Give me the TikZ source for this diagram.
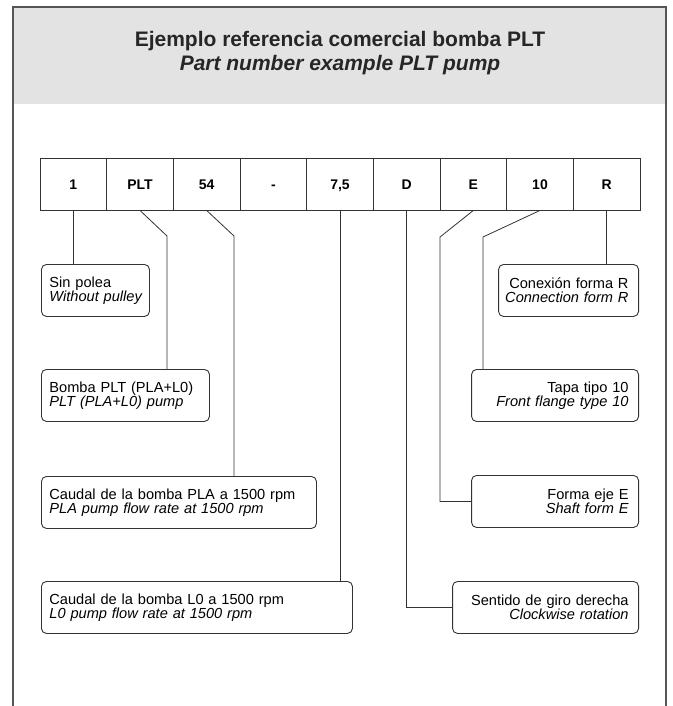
\documentclass[tikz,border=0pt]{standalone}
\usepackage{fontspec}
\setmainfont{Liberation Sans}
\definecolor{linec}{HTML}{333333}
\definecolor{framec}{HTML}{555555}
\definecolor{band}{HTML}{E3E3E3}
\newcommand{\myL}[1]{\hbox to\linewidth{#1\hss}}
\newcommand{\myR}[1]{\hbox to\linewidth{\hss#1}}
\begin{document}
\begin{tikzpicture}[x=1pt,y=-1pt,
  cell/.style={draw=linec, line width=0.9pt, minimum width=66.667pt, minimum height=52pt,
    inner sep=0pt, text height=10pt, text depth=0pt, font=\fontsize{14}{14}\selectfont\bfseries},
  lbox/.style={draw=linec, line width=0.9pt, rounded corners=5pt, anchor=north west,
    minimum height=52pt, inner xsep=8pt, inner ysep=0pt, align=left,
    font=\fontsize{14.6}{14}\selectfont},
  rbox/.style={draw=linec, line width=0.9pt, rounded corners=5pt, anchor=north east,
    minimum height=52pt, inner xsep=10pt, inner ysep=0pt, align=right,
    font=\fontsize{14.6}{14}\selectfont},
  conn/.style={draw=linec, line width=0.8pt},
  ttl/.style={anchor=base, font=\fontsize{21}{24}\selectfont\bfseries, text=black!85}]
\useasboundingbox (0,0) rectangle (672,706);
% frame
\fill[band] (13,7) rectangle (666,104);
\draw[framec, line width=1.4pt] (13,706) -- (13,7) -- (666,7) -- (666,706);
\node[ttl] (t1) at (340,47) {Ejemplo referencia comercial bomba PLT};
\node[ttl] (t2) at (340,71) {\itshape Part number example PLT pump};
% cells
\foreach \t [count=\i] in {1,PLT,54,-,{7,5},D,E,10,R}
  \node[cell] (c\i) at ({40+66.667*(\i-0.5)},184) {\t};
% boxes left
\node[lbox, text width=92pt] (sin) at (41,264) {\myL{Sin polea}\\\myL{\itshape Without pulley}};
\node[lbox, text width=152pt] (bomba) at (41,369) {\myL{Bomba PLT (PLA+L0)}\\\myL{\itshape PLT (PLA+L0) pump}};
\node[lbox, text width=259pt] (pla) at (41,476) {\myL{Caudal de la bomba PLA a 1500 rpm}\\\myL{\itshape PLA pump flow rate at 1500 rpm}};
\node[lbox, text width=295pt] (lzero) at (41,581) {\myL{Caudal de la bomba L0 a 1500 rpm}\\\myL{\itshape L0 pump flow rate at 1500 rpm}};
% boxes right
\node[rbox, text width=120pt] (conex) at (639,264) {\myR{Conexión forma R}\\\myR{\itshape Connection form R}};
\node[rbox, text width=147pt] (tapa) at (639,369) {\myR{Tapa tipo 10}\\\myR{\itshape Front flange type 10}};
\node[rbox, text width=147pt] (forma) at (639,475) {\myR{Forma eje E}\\\myR{\itshape Shaft form E}};
\node[rbox, text width=166pt] (sentido) at (639,581) {\myR{Sentido de giro derecha}\\\myR{\itshape Clockwise rotation}};
% connectors
\coordinate (k2) at (167,236);
\coordinate (k3) at (234,236);
\coordinate (k7) at (440,237);
\coordinate (k8) at (483,237);
\draw[conn] (c1.south) -- (c1.south |- sin.north);
\draw[conn] (c2.south) -- (k2) -- (k2 |- bomba.north);
\draw[conn] (c3.south) -- (k3) -- (k3 |- pla.north);
\draw[conn] (c5.south) -- (c5.south |- lzero.north);
\draw[conn] (c6.south) |- (sentido.west);
\draw[conn] (c7.south) -- (k7) |- (forma.west);
\draw[conn] (c8.south) -- (k8) -- (k8 |- tapa.north);
\draw[conn] (c9.south) -- (c9.south |- conex.north);
\end{tikzpicture}
\end{document}
